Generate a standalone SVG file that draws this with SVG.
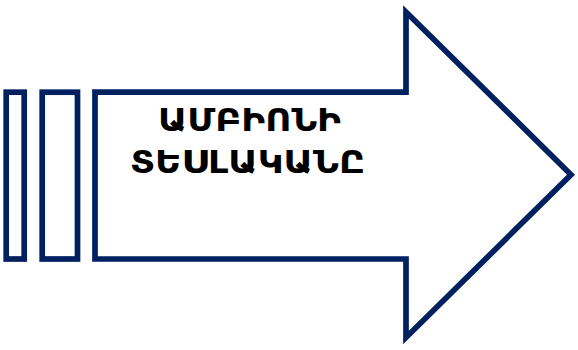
<svg xmlns="http://www.w3.org/2000/svg" width="578" height="350" viewBox="0 0 578 350">
<style>
.shape{fill:#ffffff;stroke:#002060;stroke-width:5.7;stroke-linejoin:miter;stroke-miterlimit:10}
.lbl{font-family:"DejaVu Sans","Noto Sans",sans-serif;font-weight:bold;font-size:32px;fill:#000000}
</style>
<rect width="578" height="350" fill="#ffffff"/>
<g id="bar1"><rect class="shape" x="6.2" y="92.2" width="18" height="166.8"/></g>
<g id="bar2"><rect class="shape" x="42.2" y="92.2" width="35.3" height="166.8"/></g>
<g id="arrow">
<polygon class="shape" points="95,92.2 406,92.2 406,12 571,174.7 406,337.5 406,259 95,259"/>
<text class="lbl" x="158" y="131" textLength="183" lengthAdjust="spacingAndGlyphs">ԱՄԲԻՈՆԻ</text>
<text class="lbl" x="130" y="173" textLength="235" lengthAdjust="spacingAndGlyphs">ՏԵՍԼԱԿԱՆԸ</text>
</g>
</svg>
